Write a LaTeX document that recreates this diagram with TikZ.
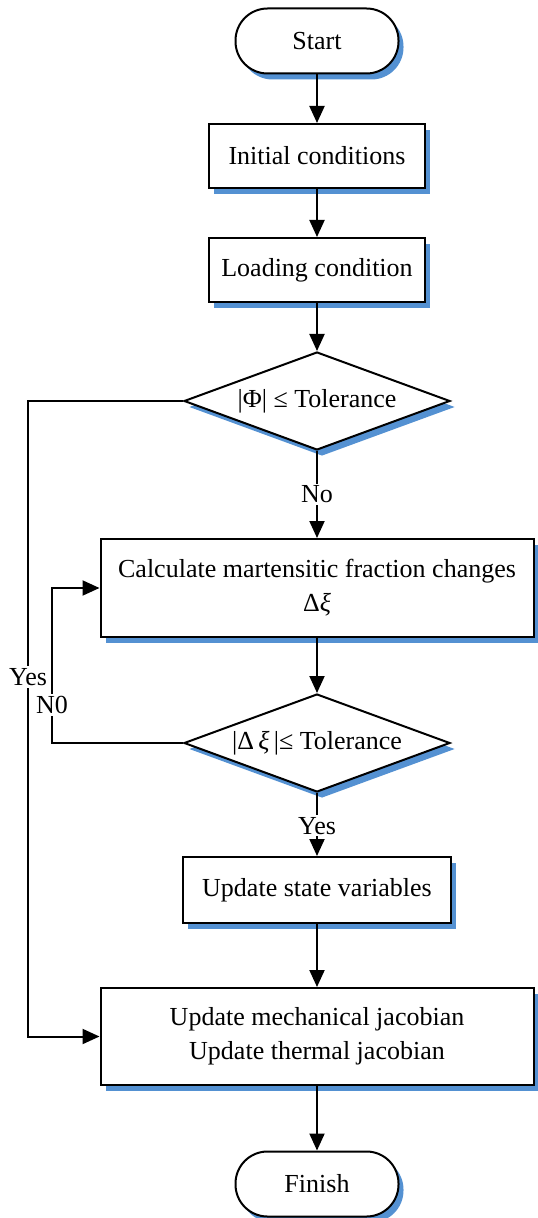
\documentclass[tikz,border=0pt]{standalone}
\usepackage{fontspec}
\setmainfont{Liberation Serif}
\usetikzlibrary{shapes.geometric,arrows.meta,shadows}
\definecolor{shblue}{RGB}{84,145,210}
\begin{document}
\begin{tikzpicture}[x=0.5pt,y=-0.5pt,
  font=\fontsize{13}{17}\selectfont,
  every node/.style={align=center},
  shad/.style={drop shadow={shadow xshift=2.5pt,shadow yshift=-3pt,fill=shblue,opacity=1}},
  term/.style={draw=black,line width=1pt,fill=white,shad,rectangle,rounded corners=16pt,minimum width=81.5pt,minimum height=32.5pt,inner sep=0pt},
  proc/.style={draw=black,line width=1pt,fill=white,shad,rectangle,inner sep=0pt},
  dec/.style={draw=black,line width=1pt,fill=white,shad,diamond,aspect=2.7,minimum width=133pt,minimum height=49pt,inner sep=0pt},
  conn/.style={line width=1pt,-{Triangle[length=8.5pt,width=7.5pt]}},
  lbl/.style={fill=white,inner sep=1pt}]
\useasboundingbox (0,0) rectangle (537,1218);
\node[term] (start) at (317,41) {Start};
\node[proc,minimum width=108pt,minimum height=32pt] (init) at (317,156) {Initial conditions};
\node[proc,minimum width=108pt,minimum height=32pt] (load) at (317,270) {Loading condition};
\node[dec] (d1) at (317,401) {|Φ| ≤ Tolerance};
\node[proc,minimum width=216.5pt,minimum height=49pt] (calc) at (317,588) {Calculate martensitic fraction changes\\Δ\textit{ξ}};
\node[dec] (d2) at (317,743) {|Δ\,\textit{ξ}\,|≤ Tolerance};
\node[proc,minimum width=134pt,minimum height=33pt] (state) at (317,890) {Update state variables};
\node[proc,minimum width=216.5pt,minimum height=48.5pt] (final) at (317,1036.5) {Update mechanical jacobian\\Update thermal jacobian};
\node[term] (finish) at (317,1184) {Finish};
\coordinate (yc) at (28,1036.5);
\coordinate (nc) at (52,588);
\draw[conn] (start) -- (init);
\draw[conn] (init) -- (load);
\draw[conn] (load) -- (d1);
\draw[conn] (d1) -- node[lbl]{No} (calc);
\draw[conn] (calc) -- (d2);
\draw[conn] (d2) -- node[lbl,pos=0.52]{Yes} (state);
\draw[conn] (state) -- (final);
\draw[conn] (final) -- (finish);
\draw[conn] (d1.west) -| (yc) -- (final.west);
\node[lbl] (yeslbl) at (28,677) {Yes};
\draw[conn] (d2.west) -| (nc) -- (calc.west);
\node[lbl] (nolbl) at (52,705) {N0};
\end{tikzpicture}
\end{document}
